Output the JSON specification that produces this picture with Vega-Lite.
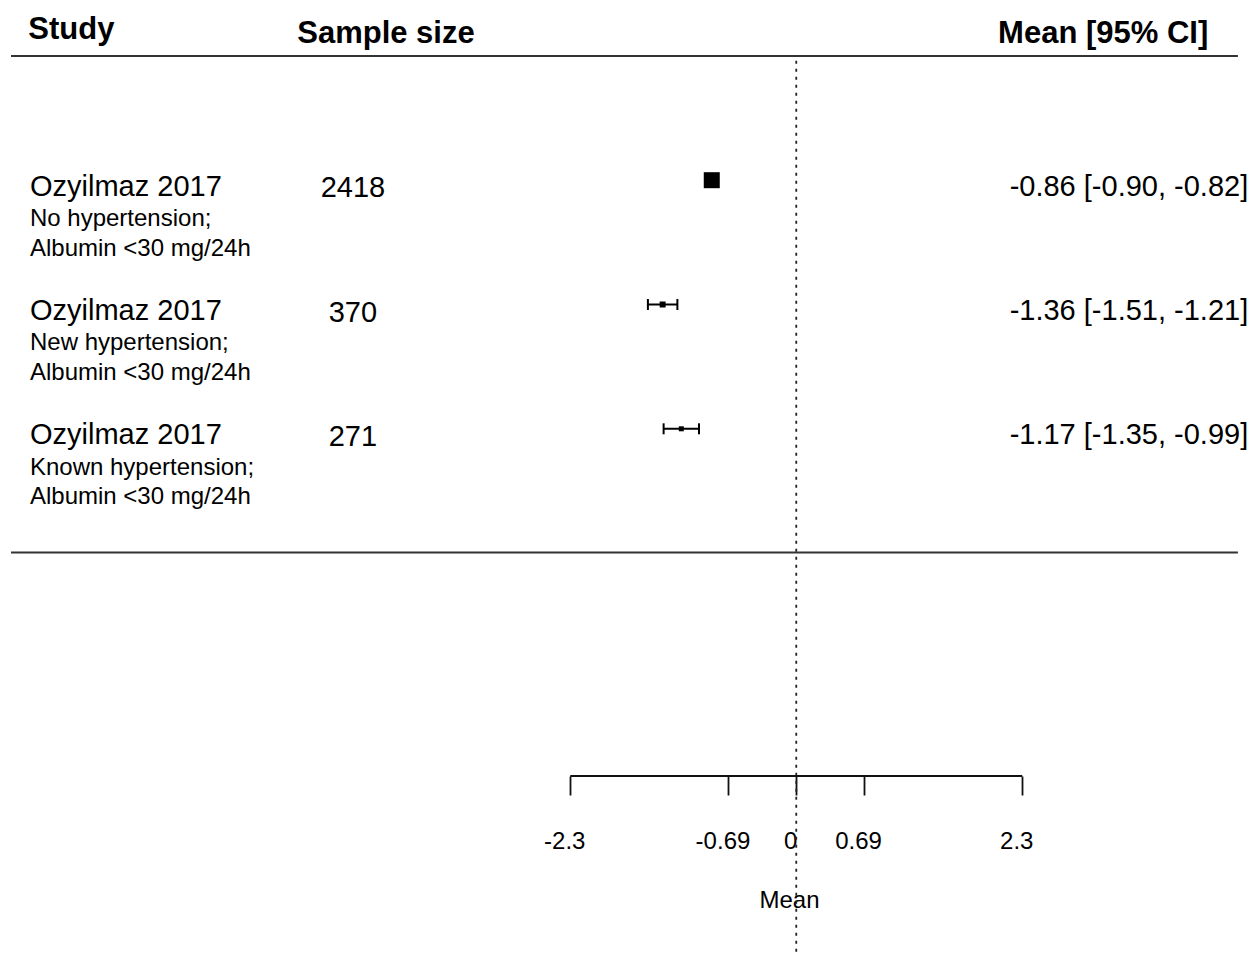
{
  "$schema": "https://vega.github.io/schema/vega-lite/v6.json",
  "width": 1256,
  "height": 776,
  "autosize": {"type": "none"},
  "padding": {"left": 0, "top": 0, "right": 0, "bottom": 184},
  "background": "white",
  "config": {
    "view": {"stroke": null},
    "text": {"font": "Liberation Sans", "color": "black"}
  },
  "datasets": {
    "studies": [
      {"study": "Ozyilmaz 2017", "subgroup": "No hypertension;\nAlbumin <30 mg/24h", "n": 2418, "mean": -0.86, "lower": -0.90, "upper": -0.82, "row": 1},
      {"study": "Ozyilmaz 2017", "subgroup": "New hypertension;\nAlbumin <30 mg/24h", "n": 370, "mean": -1.36, "lower": -1.51, "upper": -1.21, "row": 2},
      {"study": "Ozyilmaz 2017", "subgroup": "Known hypertension;\nAlbumin <30 mg/24h", "n": 271, "mean": -1.17, "lower": -1.35, "upper": -0.99, "row": 3}
    ]
  },
  "layer": [
    {
      "data": {"values": [{}]},
      "mark": {"type": "rule", "strokeWidth": 2, "color": "#333"},
      "encoding": {
        "x": {"datum": -7.992, "type": "quantitative", "scale": {"domain": [-8.104, 4.679], "nice": false, "zero": false}},
        "x2": {"datum": 4.495},
        "y": {"datum": 0, "type": "quantitative", "scale": {"domain": [5.7932, -0.4497], "nice": false, "zero": false}, "axis": null}
      }
    },
    {
      "data": {"values": [{}]},
      "mark": {"type": "rule", "strokeWidth": 2, "color": "#333"},
      "encoding": {
        "x": {"datum": -7.992, "type": "quantitative", "scale": {"domain": [-8.104, 4.679], "nice": false, "zero": false}},
        "x2": {"datum": 4.495},
        "y": {"datum": 3.995, "type": "quantitative", "scale": {"domain": [5.7932, -0.4497], "nice": false, "zero": false}, "axis": null}
      }
    },
    {
      "data": {"values": [{}]},
      "mark": {"type": "rule", "strokeWidth": 1.8, "color": "#222", "strokeDash": [3, 5]},
      "encoding": {
        "x": {"datum": 0, "type": "quantitative", "scale": {"domain": [-8.104, 4.679], "nice": false, "zero": false}},
        "y": {"datum": 0.04, "type": "quantitative", "scale": {"domain": [5.7932, -0.4497], "nice": false, "zero": false}, "axis": null},
        "y2": {"datum": 7.23}
      }
    },
    {
      "data": {"values": [{}]},
      "mark": {"type": "rule", "strokeWidth": 1.8, "color": "#111"},
      "encoding": {
        "x": {"datum": -2.3, "type": "quantitative", "scale": {"domain": [-8.104, 4.679], "nice": false, "zero": false}},
        "x2": {"datum": 2.3},
        "y": {"datum": 5.7932, "type": "quantitative", "scale": {"domain": [5.7932, -0.4497], "nice": false, "zero": false}, "axis": null}
      }
    },
    {
      "data": {"name": "studies"},
      "mark": {"type": "rule", "strokeWidth": 2, "color": "black"},
      "encoding": {
        "x": {"field": "lower", "type": "quantitative", "scale": {"domain": [-8.104, 4.679], "nice": false, "zero": false}},
        "x2": {"field": "upper"},
        "y": {"field": "row", "type": "quantitative", "scale": {"domain": [5.7932, -0.4497], "nice": false, "zero": false}, "axis": null}
      }
    },
    {
      "data": {"name": "studies"},
      "mark": {"type": "tick", "orient": "vertical", "size": 11, "thickness": 2, "color": "black", "opacity": 1},
      "encoding": {
        "x": {"field": "lower", "type": "quantitative", "scale": {"domain": [-8.104, 4.679], "nice": false, "zero": false}},
        "y": {"field": "row", "type": "quantitative", "scale": {"domain": [5.7932, -0.4497], "nice": false, "zero": false}, "axis": null}
      }
    },
    {
      "data": {"name": "studies"},
      "mark": {"type": "tick", "orient": "vertical", "size": 11, "thickness": 2, "color": "black", "opacity": 1},
      "encoding": {
        "x": {"field": "upper", "type": "quantitative", "scale": {"domain": [-8.104, 4.679], "nice": false, "zero": false}},
        "y": {"field": "row", "type": "quantitative", "scale": {"domain": [5.7932, -0.4497], "nice": false, "zero": false}, "axis": null}
      }
    },
    {
      "data": {"name": "studies"},
      "mark": {"type": "point", "shape": "square", "filled": true, "color": "black", "opacity": 1, "strokeWidth": 0},
      "encoding": {
        "x": {
          "field": "mean",
          "type": "quantitative",
          "scale": {"domain": [-8.104, 4.679], "nice": false, "zero": false},
          "axis": {
            "values": [-2.3, -0.69, 0, 0.69, 2.3],
            "domain": false,
            "grid": false,
            "ticks": true,
            "tickSize": 19,
            "tickWidth": 1.8,
            "tickColor": "#111",
            "labelFont": "Liberation Sans",
            "labelFontSize": 24,
            "labelColor": "black",
            "labelPadding": 53,
            "labelBaseline": "alphabetic",
            "labelOffset": -6,
            "labelExpr": "'' + datum.value",
            "labelFlush": false,
            "labelOverlap": false,
            "title": "Mean",
            "titleFont": "Liberation Sans",
            "titleFontSize": 24,
            "titleFontWeight": "normal",
            "titleColor": "black",
            "titleX": 789,
            "titleY": 131,
            "titleBaseline": "alphabetic",
            "titleAlign": "center"
          }
        },
        "y": {"field": "row", "type": "quantitative", "scale": {"domain": [5.7932, -0.4497], "nice": false, "zero": false}, "axis": null},
        "size": {"field": "n", "type": "quantitative", "scale": {"domain": [271, 2418], "range": [25, 256], "zero": false}, "legend": null}
      }
    },
    {
      "data": {"name": "studies"},
      "mark": {"type": "text", "align": "left", "baseline": "alphabetic", "fontSize": 29, "dy": 15.5},
      "encoding": {
        "x": {"datum": -7.799, "type": "quantitative", "scale": {"domain": [-8.104, 4.679], "nice": false, "zero": false}},
        "y": {"field": "row", "type": "quantitative", "scale": {"domain": [5.7932, -0.4497], "nice": false, "zero": false}, "axis": null},
        "text": {"field": "study"}
      }
    },
    {
      "data": {"name": "studies"},
      "mark": {"type": "text", "align": "left", "baseline": "alphabetic", "fontSize": 24, "lineBreak": "\n", "lineHeight": 29.7, "dy": 45.7},
      "encoding": {
        "x": {"datum": -7.799, "type": "quantitative", "scale": {"domain": [-8.104, 4.679], "nice": false, "zero": false}},
        "y": {"field": "row", "type": "quantitative", "scale": {"domain": [5.7932, -0.4497], "nice": false, "zero": false}, "axis": null},
        "text": {"field": "subgroup"}
      }
    },
    {
      "data": {"name": "studies"},
      "mark": {"type": "text", "align": "center", "baseline": "alphabetic", "fontSize": 29, "dy": 17},
      "encoding": {
        "x": {"datum": -4.512, "type": "quantitative", "scale": {"domain": [-8.104, 4.679], "nice": false, "zero": false}},
        "y": {"field": "row", "type": "quantitative", "scale": {"domain": [5.7932, -0.4497], "nice": false, "zero": false}, "axis": null},
        "text": {"field": "n", "type": "nominal"}
      }
    },
    {
      "data": {"name": "studies"},
      "transform": [
        {"calculate": "replace(format(datum.mean, '.2f'), '\u2212', '-') + ' [' + replace(format(datum.lower, '.2f'), '\u2212', '-') + ', ' + replace(format(datum.upper, '.2f'), '\u2212', '-') + ']'", "as": "estimate"}
      ],
      "mark": {"type": "text", "align": "right", "baseline": "alphabetic", "fontSize": 29, "dy": 15.5},
      "encoding": {
        "x": {"datum": 4.6, "type": "quantitative", "scale": {"domain": [-8.104, 4.679], "nice": false, "zero": false}},
        "y": {"field": "row", "type": "quantitative", "scale": {"domain": [5.7932, -0.4497], "nice": false, "zero": false}, "axis": null},
        "text": {"field": "estimate"}
      }
    },
    {
      "data": {"values": [{"header": "Study"}]},
      "mark": {"type": "text", "align": "left", "baseline": "alphabetic", "fontSize": 31, "fontWeight": "bold"},
      "encoding": {
        "x": {"datum": -7.816, "type": "quantitative", "scale": {"domain": [-8.104, 4.679], "nice": false, "zero": false}},
        "y": {"datum": -0.136, "type": "quantitative", "scale": {"domain": [5.7932, -0.4497], "nice": false, "zero": false}, "axis": null},
        "text": {"field": "header"}
      }
    },
    {
      "data": {"values": [{"header": "Sample size"}]},
      "mark": {"type": "text", "align": "center", "baseline": "alphabetic", "fontSize": 31, "fontWeight": "bold"},
      "encoding": {
        "x": {"datum": -4.176, "type": "quantitative", "scale": {"domain": [-8.104, 4.679], "nice": false, "zero": false}},
        "y": {"datum": -0.106, "type": "quantitative", "scale": {"domain": [5.7932, -0.4497], "nice": false, "zero": false}, "axis": null},
        "text": {"field": "header"}
      }
    },
    {
      "data": {"values": [{"header": "Mean [95% CI]"}]},
      "mark": {"type": "text", "align": "right", "baseline": "alphabetic", "fontSize": 31, "fontWeight": "bold"},
      "encoding": {
        "x": {"datum": 4.193, "type": "quantitative", "scale": {"domain": [-8.104, 4.679], "nice": false, "zero": false}},
        "y": {"datum": -0.106, "type": "quantitative", "scale": {"domain": [5.7932, -0.4497], "nice": false, "zero": false}, "axis": null},
        "text": {"field": "header"}
      }
    }
  ]
}
